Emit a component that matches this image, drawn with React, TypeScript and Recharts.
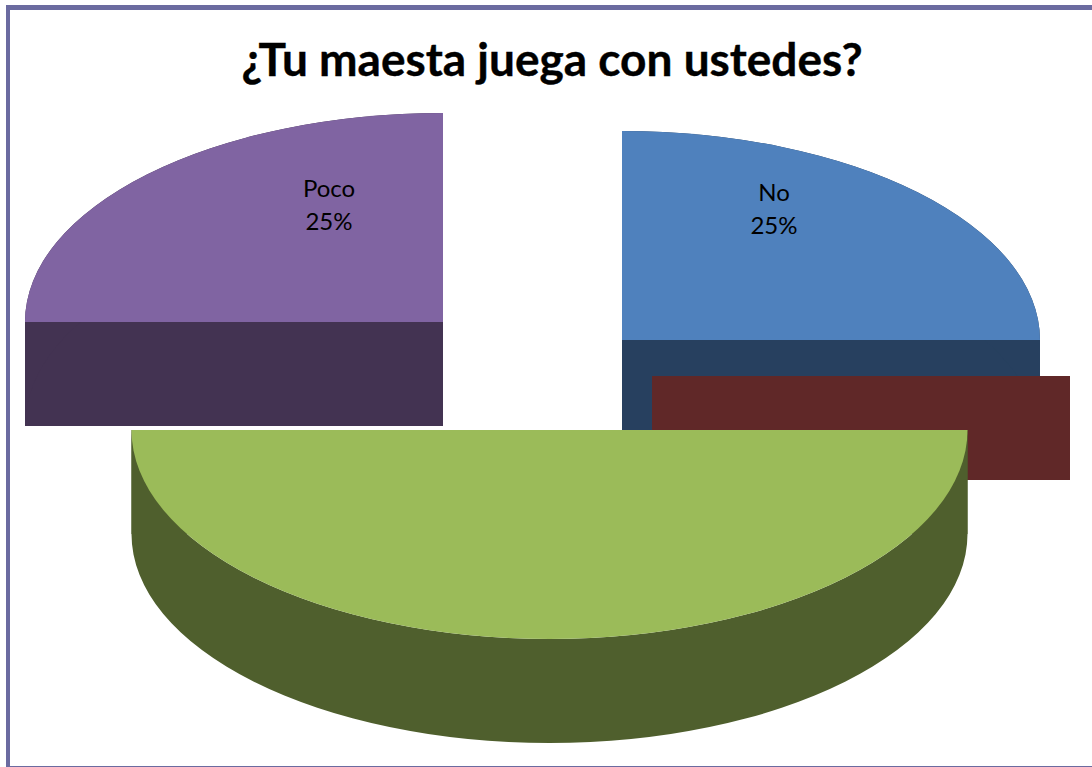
import { Pie, PieChart } from "recharts"

const categories = ["No", "Mucho", "Sí", "Poco"]
const percentages = [25, 0, 50, 25]
const hiddenLabels = ["Mucho", "Sí"]

const topColors = ["#4f81bd", "#c0504d", "#9bbb59", "#8064a2"]
const sideColors = ["#27405f", "#602828", "#4f5f2d", "#433352"]

// pie explosion, relative to the pie's center
const explode = [
    { dx: 86, dy: 0 },
    { dx: 116, dy: 36 },
    { dx: 13.5, dy: 90 },
    { dx: -93, dy: -18 },
]
const labelSpots = [
    { dx: 152, y1: 201, y2: 234 },
    { dx: 0, y1: 0, y2: 0 },
    { dx: 0, y1: 0, y2: 0 },
    { dx: -114, y1: 197, y2: 230 },
]

const SQUASH = 0.5
const DEPTH = 104

const tableData = categories.map((name, i) => ({ name, value: percentages[i] }))

const rad = (deg: number) => (deg * Math.PI) / 180

const Slice3D = (props: any) => {
    const { cx, cy, outerRadius, startAngle, endAngle, name } = props
    const i = categories.indexOf(name ?? props.payload?.name)
    const x0 = cx + explode[i].dx
    const y0 = cy + explode[i].dy
    const rx = outerRadius
    const ry = outerRadius * SQUASH
    const ax = x0 + rx * Math.cos(rad(startAngle))
    const ay = y0 - ry * Math.sin(rad(startAngle))
    const bx = x0 + rx * Math.cos(rad(endAngle))
    const by = y0 - ry * Math.sin(rad(endAngle))
    const large = startAngle - endAngle > 180 ? 1 : 0

    const top = `M${x0},${y0} L${ax},${ay} A${rx},${ry} 0 ${large} 1 ${bx},${by} Z`
    const rim = `M${ax},${ay} A${rx},${ry} 0 ${large} 1 ${bx},${by} L${bx},${by + DEPTH} A${rx},${ry} 0 ${large} 0 ${ax},${ay + DEPTH} Z`
    const cutA = `M${x0},${y0} L${ax},${ay} L${ax},${ay + DEPTH} L${x0},${y0 + DEPTH} Z`
    const cutB = `M${x0},${y0} L${bx},${by} L${bx},${by + DEPTH} L${x0},${y0 + DEPTH} Z`

    return (
        <g>
            <path d={cutA} fill={sideColors[i]} />
            <path d={cutB} fill={sideColors[i]} />
            {startAngle !== endAngle && <path d={rim} fill={sideColors[i]} />}
            {startAngle !== endAngle && <path d={top} fill={topColors[i]} />}
        </g>
    )
}

const SliceLabel = (props: any) => {
    const { cx, name, percent, index } = props
    if (hiddenLabels.includes(name)) return null
    const spot = labelSpots[index]
    const x = cx + explode[index].dx + spot.dx
    return (
        <g fontFamily="Lato, sans-serif" fontSize={24} fill="#000">
            <text x={x} y={spot.y1} textAnchor="middle">{name}</text>
            <text x={x} y={spot.y2} textAnchor="middle">{`${Math.round(percent * 100)}%`}</text>
        </g>
    )
}

export default function App() {
    return (
        <div style={{ position: "absolute", left: 0, top: 0, width: 1092, height: 767, overflow: "hidden", background: "#fff" }}>
            <div
                style={{
                    position: "absolute",
                    left: 6,
                    top: 5,
                    width: 1100,
                    height: 756,
                    borderTop: "5px solid #6b6ba0",
                    borderLeft: "4px solid #6b6ba0",
                    borderBottom: "1px solid #6b6ba0",
                }}
            />
            <PieChart width={1092} height={767} margin={{ top: 0, right: 0, bottom: 0, left: 0 }} style={{ position: "absolute", left: 0, top: 0 }}>
                <text x={552} y={76} textAnchor="middle" fontFamily="Lato, sans-serif" fontWeight={700} fontSize={46} stroke="#000" strokeWidth={0.4} fill="#000">
                    ¿Tu maesta juega con ustedes?
                </text>
                <Pie
                    data={tableData}
                    dataKey="value"
                    nameKey="name"
                    cx={536}
                    cy={340}
                    innerRadius={0}
                    outerRadius={418}
                    startAngle={450}
                    endAngle={90}
                    stroke="none"
                    shape={Slice3D}
                    label={SliceLabel}
                    labelLine={false}
                    isAnimationActive={false}
                />
            </PieChart>
        </div>
    )
}
